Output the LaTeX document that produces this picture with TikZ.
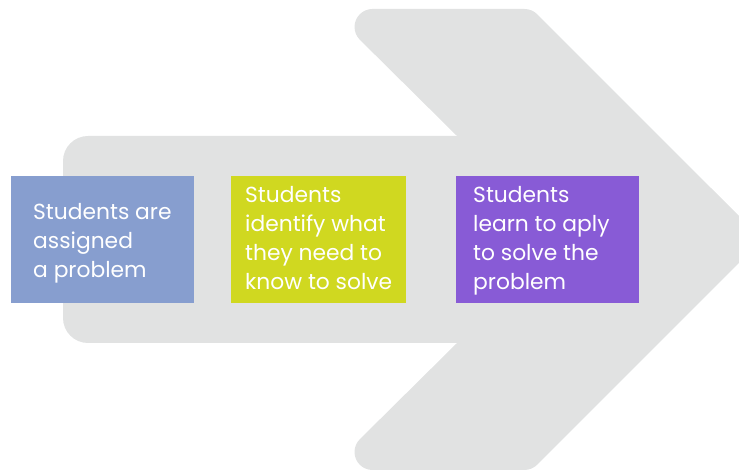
\documentclass[tikz,border=0pt]{standalone}
\usepackage{fontspec}
\setmainfont{Poppins}
\definecolor{arrowgray}{RGB}{225,226,226}
\definecolor{boxblue}{RGB}{135,158,207}
\definecolor{boxgreen}{RGB}{208,216,32}
\definecolor{boxpurple}{RGB}{136,91,214}
\tikzset{
  box/.style={anchor=north west, inner sep=0pt, minimum width=#1, minimum height=127pt},
  label/.style={anchor=west, inner sep=0pt, text=white, align=left,
    font=\fontsize{21.8}{29}\selectfont},
}
\begin{document}
\begin{tikzpicture}[x=1pt,y=-1pt]
\useasboundingbox (0,0) rectangle (739,470);
\begin{scope}
\clip (0,0) rectangle (739,470);
% shaft
\fill[arrowgray, rounded corners=25pt] (500,136) -- (63,136) -- (63,343) -- (500,343) -- cycle;
% head
\fill[arrowgray] (457,136) -- (359.8,39.7)
  arc[start angle=225, end angle=90, radius=18pt] -- (524.5,9)
  arc[start angle=90, end angle=45, radius=18pt] -- (762.5,239.5)
  -- (537.2,464.7) arc[start angle=-45, end angle=-90, radius=18pt] -- (372.5,470)
  arc[start angle=-90, end angle=-225, radius=18pt] -- (457,343) -- cycle;
\end{scope}
\node[box=183pt, fill=boxblue] (b1) at (11,176) {};
\node[box=175pt, fill=boxgreen] (b2) at (231,176) {};
\node[box=183pt, fill=boxpurple] (b3) at (456,176) {};
\node[label] (t1) at (33,243.5) {Students are\\assigned\\a problem};
\node[label] (t2) at (245,238) {Students\\identify what\\they need to\\know to solve};
\node[label] (t3) at (473,240.5) {Students\\learn to aply\\to solve the\\problem};
\end{tikzpicture}
\end{document}
